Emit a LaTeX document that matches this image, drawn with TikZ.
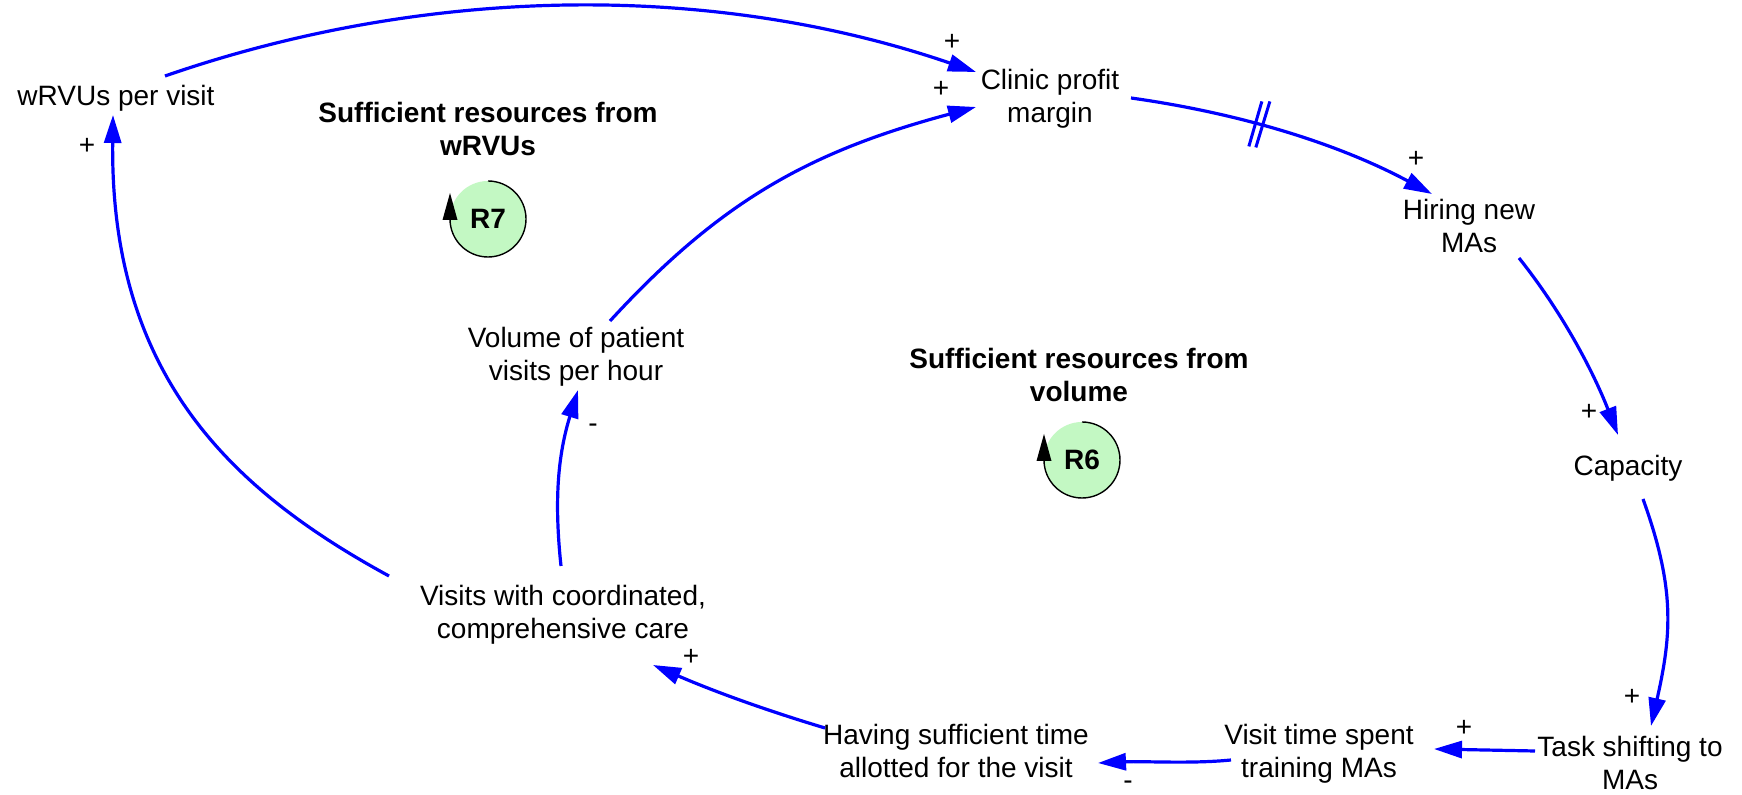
\documentclass[tikz,border=0pt]{standalone}
\usepackage{fontspec}
\setmainfont{Liberation Sans}
\usetikzlibrary{arrows.meta}
\definecolor{loopfill}{RGB}{195,248,195}
\begin{document}
\begin{tikzpicture}[x=0.5pt,y=-0.5pt,
  varnode/.style={inner sep=0pt, align=center, font=\fontsize{14pt}{16.5pt}\selectfont},
  looptitle/.style={inner sep=0pt, align=center, font=\fontsize{14pt}{16.5pt}\selectfont\bfseries},
  polarity/.style={inner sep=0pt, font=\fontsize{14pt}{16.5pt}\selectfont},
  link/.style={draw=blue, line width=1.6pt, -{Triangle[length=14pt,width=8.5pt]}},
  delaybar/.style={draw=blue, line width=1.5pt},
  loopdisc/.style={circle, fill=loopfill, minimum size=38pt, inner sep=0pt, outer sep=0pt,
    font=\fontsize{14pt}{16.5pt}\selectfont\bfseries},
]
\path[use as bounding box] (0,0) rectangle (1742,795);

% variables
\node[varnode] (wrvu)      at (116,98)  {wRVUs per visit};
\node[varnode] (clinic)    at (1050,99) {Clinic profit\\margin};
\node[varnode] (hiring)    at (1469,226) {Hiring new\\MAs};
\node[varnode] (capacity)  at (1628,468) {Capacity};
\node[varnode] (task)      at (1630,763) {Task shifting to\\MAs};
\node[varnode] (visittime) at (1319,754) {Visit time spent\\training MAs};
\node[varnode] (having)    at (956,751)  {Having sufficient time\\allotted for the visit};
\node[varnode] (visits)    at (563,615)  {Visits with coordinated,\\comprehensive care};
\node[varnode] (volume)    at (576,357)  {Volume of patient\\visits per hour};

% loop titles and loop markers
\node[looptitle] (t7) at (488,129) {Sufficient resources from\\wRVUs};
\node[looptitle] (t6) at (1079,375) {Sufficient resources from\\volume};

\node[loopdisc] (r7) at (488,219) {R7};
\draw[line width=0.7pt] (r7.north) arc[start angle=90, end angle=-180, radius=19pt];
\fill ([shift={(-7.5,1)}]r7.west) -- ([shift={(7.5,1)}]r7.west) -- ([shift={(0,-26)}]r7.west) -- cycle;

\node[loopdisc] (r6) at (1082,460) {R6};
\draw[line width=0.7pt] (r6.north) arc[start angle=90, end angle=-180, radius=19pt];
\fill ([shift={(-7.5,1)}]r6.west) -- ([shift={(7.5,1)}]r6.west) -- ([shift={(0,-26)}]r6.west) -- cycle;

% causal links
\draw[link] ([shift={(49,-22)}]wrvu.center) .. controls +(263,-91) and +(-263,-90) .. ([shift={(-74,-27)}]clinic.center);
\draw[link] ([shift={(34,-36)}]volume.center) .. controls +(112,-122) and +(-164,44) .. ([shift={(-74,8)}]clinic.center);
\draw[link] ([shift={(81,-1)}]clinic.center) .. controls +(107,15) and +(-95,-51) .. ([shift={(-37,-32)}]hiring.center) coordinate[pos=0.41] (dly);
\draw[delaybar] ([shift={(-10,22)}]dly) -- ([shift={(3,-23)}]dly);
\draw[delaybar] ([shift={(-3,23)}]dly) -- ([shift={(11,-23)}]dly);
\draw[link] ([shift={(50,32)}]hiring.center) .. controls +(43,54) and +(-25,-64) .. ([shift={(-10,-33)}]capacity.center);
\draw[link] ([shift={(15,31)}]capacity.center) .. controls +(32,89) and +(21,-93) .. ([shift={(21,-37)}]task.center);
\draw[link] ([shift={(-95,-12)}]task.center) -- ([shift={(115,-5)}]visittime.center);
\draw[link] ([shift={(-88,6)}]visittime.center) .. controls +(-40,4) and +(45,-2) .. ([shift={(142,12)}]having.center);
\draw[link] ([shift={(-131,-23)}]having.center) .. controls +(-60,-18) and +(60,26) .. ([shift={(90,50)}]visits.center);
\draw[link] ([shift={(-2,-49)}]visits.center) .. controls +(-7,-66) and +(-20,65) .. ([shift={(2,33)}]volume.center);
\draw[link] ([shift={(-174,-39)}]visits.center) .. controls +(-158,-86) and +(-3,260) .. ([shift={(-3,17)}]wrvu.center);

% link polarities
\node[polarity] (p1)  at (952,42)   {+};
\node[polarity] (p2)  at (941,89)   {+};
\node[polarity] (p3)  at (1416,159) {+};
\node[polarity] (p4)  at (1589,412) {+};
\node[polarity] (p5)  at (1632,697) {+};
\node[polarity] (p6)  at (1464,728) {+};
\node[polarity] (p7)  at (1128,785) {-};
\node[polarity] (p8)  at (691,657)  {+};
\node[polarity] (p9)  at (593,428)  {-};
\node[polarity] (p10) at (87,146)   {+};
\end{tikzpicture}
\end{document}
